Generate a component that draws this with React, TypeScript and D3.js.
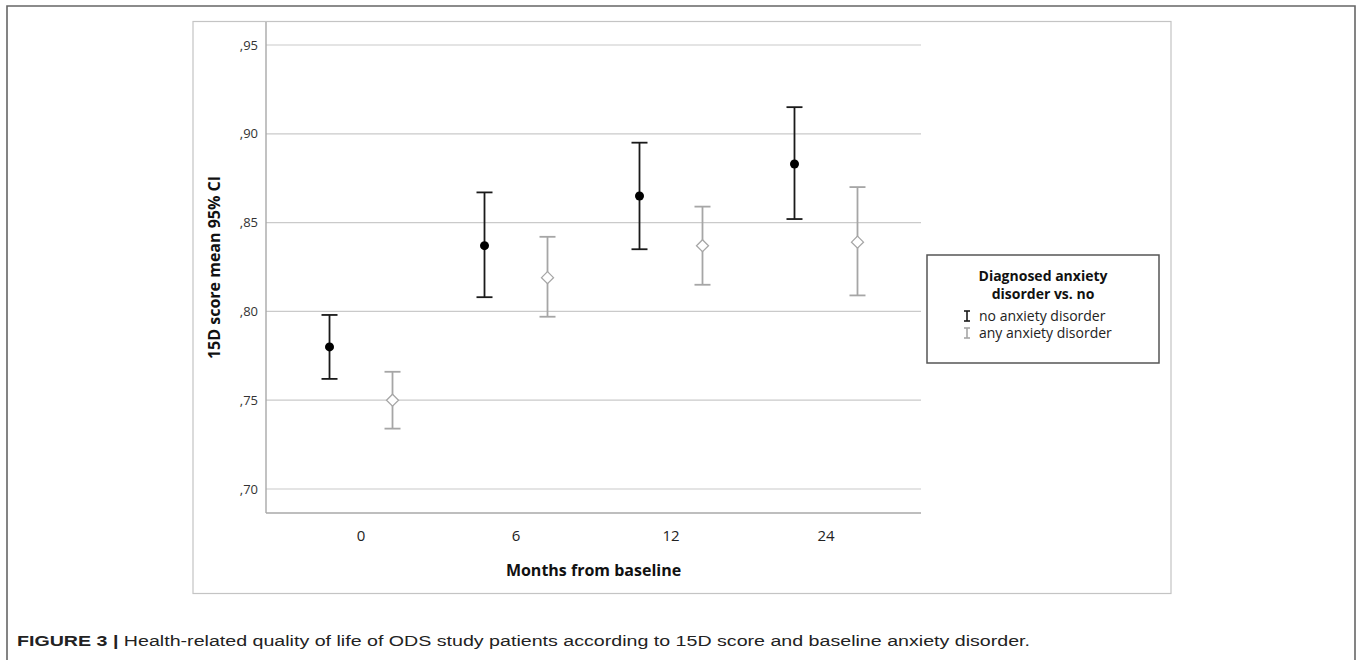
import React from "react";
import * as d3 from "d3";

const categories = ["0", "6", "12", "24"];
const seriesNames = ["no anxiety disorder", "any anxiety disorder"];
const noAnxMean = [0.780, 0.837, 0.865, 0.883];
const noAnxLow = [0.762, 0.808, 0.835, 0.852];
const noAnxHigh = [0.798, 0.867, 0.895, 0.915];
const anyAnxMean = [0.750, 0.819, 0.837, 0.839];
const anyAnxLow = [0.734, 0.797, 0.815, 0.809];
const anyAnxHigh = [0.766, 0.842, 0.859, 0.870];
const yTicks = [0.70, 0.75, 0.80, 0.85, 0.90, 0.95];

const W = 1357;
const H = 660;
const plot = { left: 266, right: 921, top: 22, bottom: 513 };

export default function App() {
  const x = d3
    .scalePoint<string>()
    .domain(categories)
    .range([plot.left, plot.right])
    .padding(0.613);
  const y = d3.scaleLinear().domain([0.70, 0.95]).range([489, 45]);
  const offset = 31.5;
  const capW = 8;
  const fmt = (v: number) => "," + d3.format(".2f")(v).split(".")[1];

  const series = [
    { name: seriesNames[0], mean: noAnxMean, lo: noAnxLow, hi: noAnxHigh, color: "#1a1a1a", dx: -offset, filled: true },
    { name: seriesNames[1], mean: anyAnxMean, lo: anyAnxLow, hi: anyAnxHigh, color: "#a6a6a6", dx: offset, filled: false },
  ];

  const font = "'Open Sans', 'DejaVu Sans', sans-serif";

  return (
    <svg width={W} height={H} style={{ position: "absolute", left: 0, top: 0, background: "#fff" }} fontFamily={font}>
      {/* outer figure frame */}
      <path d={`M7,${H} V6 H1355 V${H}`} fill="none" stroke="#666" strokeWidth={1.6} />
      {/* inner chart frame */}
      <rect x={193} y={21.5} width={978} height={572} fill="none" stroke="#c4c4c4" strokeWidth={1.2} />

      {/* gridlines */}
      {yTicks.map((t) => (
        <line key={"g" + t} x1={plot.left} x2={plot.right} y1={y(t)} y2={y(t)} stroke="#cacaca" strokeWidth={1.2} />
      ))}
      {/* axes */}
      <line x1={plot.left} x2={plot.left} y1={plot.top} y2={plot.bottom} stroke="#a8a8a8" strokeWidth={1.4} />
      <line x1={plot.left} x2={plot.right} y1={plot.bottom} y2={plot.bottom} stroke="#a8a8a8" strokeWidth={1.4} />

      {/* y tick labels */}
      {yTicks.map((t) => (
        <text key={"t" + t} x={258} y={y(t)} dy="0.35em" textAnchor="end" fontSize={13} fill="#333">
          {fmt(t)}
        </text>
      ))}
      {/* x tick labels */}
      {categories.map((c) => (
        <text key={"x" + c} x={x(c)} y={536} dy="0.35em" textAnchor="middle" fontSize={15} fill="#222">
          {c}
        </text>
      ))}

      {/* axis titles */}
      <text x={(plot.left + plot.right) / 2} y={570} dy="0.35em" textAnchor="middle" fontSize={16} fontWeight="bold" fill="#111">
        Months from baseline
      </text>
      <text
        transform={`translate(214,${(plot.top + plot.bottom) / 2}) rotate(-90)`}
        dy="0.35em"
        textAnchor="middle"
        fontSize={16}
        fontWeight="bold"
        fill="#111"
      >
        15D score mean 95% CI
      </text>

      {/* error bars */}
      {series.map((s) =>
        categories.map((c, i) => {
          const cx = (x(c) as number) + s.dx;
          return (
            <g key={s.name + c}>
              <line x1={cx} x2={cx} y1={y(s.hi[i])} y2={y(s.lo[i])} stroke={s.color} strokeWidth={1.8} />
              <line x1={cx - capW} x2={cx + capW} y1={y(s.hi[i])} y2={y(s.hi[i])} stroke={s.color} strokeWidth={1.8} />
              <line x1={cx - capW} x2={cx + capW} y1={y(s.lo[i])} y2={y(s.lo[i])} stroke={s.color} strokeWidth={1.8} />
              {s.filled ? (
                <circle cx={cx} cy={y(s.mean[i])} r={4.5} fill="#000" />
              ) : (
                <path
                  d={`M${cx},${y(s.mean[i]) - 6} L${cx + 6},${y(s.mean[i])} L${cx},${y(s.mean[i]) + 6} L${cx - 6},${y(s.mean[i])} Z`}
                  fill="#fff"
                  stroke={s.color}
                  strokeWidth={1.3}
                />
              )}
            </g>
          );
        })
      )}

      {/* legend */}
      <rect x={927} y={255} width={232} height={108} fill="#fff" stroke="#555" strokeWidth={1.5} />
      <text x={1043} y={276} dy="0.35em" textAnchor="middle" fontSize={14} fontWeight="bold" fill="#111">
        Diagnosed anxiety
      </text>
      <text x={1043} y={294} dy="0.35em" textAnchor="middle" fontSize={14} fontWeight="bold" fill="#111">
        disorder vs. no
      </text>
      {series.map((s, i) => {
        const ly = 316 + i * 17;
        const lx = 967;
        return (
          <g key={"l" + s.name}>
            <line x1={lx} x2={lx} y1={ly - 5} y2={ly + 5} stroke={s.color} strokeWidth={1.6} />
            <line x1={lx - 3} x2={lx + 3} y1={ly - 5} y2={ly - 5} stroke={s.color} strokeWidth={1.6} />
            <line x1={lx - 3} x2={lx + 3} y1={ly + 5} y2={ly + 5} stroke={s.color} strokeWidth={1.6} />
            <text x={979} y={ly} dy="0.35em" fontSize={14} fill="#222">
              {s.name}
            </text>
          </g>
        );
      })}

      {/* caption */}
      <text x={17} y={646} fontSize={14} fontFamily="'Liberation Sans', Arial, sans-serif" fill="#222" textLength={1013} lengthAdjust="spacingAndGlyphs">
        <tspan fontWeight="bold">FIGURE 3 | </tspan>
        <tspan>Health-related quality of life of ODS study patients according to 15D score and baseline anxiety disorder.</tspan>
      </text>
    </svg>
  );
}
